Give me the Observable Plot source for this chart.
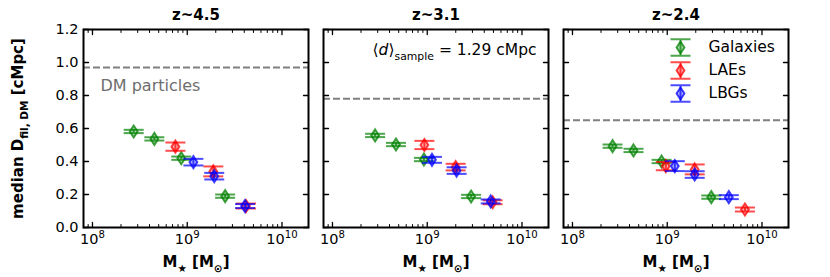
<!DOCTYPE html>
<html><head><meta charset="utf-8">
<script src="https://cdn.jsdelivr.net/npm/d3@7"></script>
<script src="https://cdn.jsdelivr.net/npm/@observablehq/plot@0.6"></script>
<style>body{margin:0;background:#fff;}</style>
</head><body><div id="chart"></div>
<script>
// ---- data ----
const panels = ["z~4.5", "z~3.1", "z~2.4"];
const seriesNames = ["Galaxies", "LAEs", "LBGs"];
const seriesColors = ["#008000", "#ff0000", "#0000ff"];
const dmLevel = [0.97, 0.78, 0.65];           // dashed "DM particles" level per panel

// log10 M* per panel
const galLogM = [[8.435, 8.653, 8.937, 9.40], [8.45, 8.67, 8.965, 9.463], [8.423, 8.644, 8.94, 9.465]];
const galD    = [[0.582, 0.537, 0.42, 0.19], [0.558, 0.503, 0.412, 0.188], [0.493, 0.467, 0.40, 0.184]];
const galErr  = [[0.01, 0.01, 0.01, 0.01], [0.01, 0.01, 0.01, 0.01], [0.01, 0.01, 0.01, 0.01]];

const laeLogM = [[8.875, 9.275, 9.62], [8.97, 9.30, 9.69], [8.985, 9.29, 9.82]];
const laeD    = [[0.49, 0.34, 0.13], [0.50, 0.366, 0.153], [0.372, 0.352, 0.109]];
const laeErr  = [[0.025, 0.03, 0.015], [0.025, 0.02, 0.012], [0.025, 0.03, 0.012]];

const lbgLogM = [[9.065, 9.285, 9.61], [9.05, 9.31, 9.67], [9.08, 9.29, 9.65]];
const lbgD    = [[0.396, 0.311, 0.13], [0.41, 0.345, 0.158], [0.372, 0.321, 0.184]];
const lbgErr  = [[0.02, 0.02, 0.012], [0.018, 0.02, 0.012], [0.03, 0.02, 0.012]];

const xMajor = [1e8, 1e9, 1e10];
const xMinor = [9e7, 2e8, 3e8, 4e8, 5e8, 6e8, 7e8, 8e8, 9e8, 2e9, 3e9, 4e9, 5e9, 6e9, 7e9, 8e9, 9e9];
const yTicks = [0, 0.2, 0.4, 0.6, 0.8, 1.0, 1.2];
const xTickExp = ["8", "9", "10"];

// ---- build table ----
const sets = [[galLogM, galD, galErr], [laeLogM, laeD, laeErr], [lbgLogM, lbgD, lbgErr]];
const rows = [];
sets.forEach(([LM, D, E], si) => panels.forEach((p, pi) => LM[pi].forEach((lm, i) =>
  rows.push({panel: p, series: seriesNames[si], m: Math.pow(10, lm), d: D[pi][i], e: E[pi][i]}))));

// ---- symbols ----
const thinDiamond = {draw(ctx, size) { const r = Math.sqrt(size / Math.PI), w = r * 0.65;
  ctx.moveTo(0, -r); ctx.lineTo(w, 0); ctx.lineTo(0, r); ctx.lineTo(-w, 0); ctx.closePath(); }};
const capLine = {draw(ctx, size) { const r = Math.sqrt(size / Math.PI); ctx.moveTo(-r, 0); ctx.lineTo(r, 0); }};
const errGlyph = {draw(ctx, size) { const r = Math.sqrt(size / Math.PI), h = r * 0.83;
  ctx.moveTo(-r, -h); ctx.lineTo(r, -h); ctx.moveTo(-r, h); ctx.lineTo(r, h); ctx.moveTo(0, -h); ctx.lineTo(0, h); }};
const tickShape = {draw(ctx, l) { ctx.moveTo(0, 0); ctx.lineTo(0, -l); }};

const marks = [];
// dashed DM lines
marks.push(Plot.ruleY(panels, {fx: d => d, y: (d, i) => dmLevel[i], stroke: "#808080", strokeWidth: 2, strokeDasharray: "7,3"}));
marks.push(Plot.text([panels[0]], {fx: d => d, text: () => "DM particles", frameAnchor: "top-left", dx: 17, dy: 56, textAnchor: "start", lineAnchor: "middle", fill: "#6e6e6e", fontSize: 16}));

// error bars + markers
seriesNames.forEach((s, si) => {
  const data = rows.filter(r => r.series === s);
  const c = seriesColors[si];
  marks.push(Plot.ruleX(data, {fx: "panel", x: "m", y1: d => d.d - d.e, y2: d => d.d + d.e, stroke: c, strokeOpacity: 0.7, strokeWidth: 2}));
  marks.push(Plot.dot(data, {fx: "panel", x: "m", y: d => d.d - d.e, symbol: capLine, r: 10, stroke: c, strokeOpacity: 0.7, strokeWidth: 2, fill: "none"}));
  marks.push(Plot.dot(data, {fx: "panel", x: "m", y: d => d.d + d.e, symbol: capLine, r: 10, stroke: c, strokeOpacity: 0.7, strokeWidth: 2, fill: "none"}));
  marks.push(Plot.dot(data, {fx: "panel", x: "m", y: "d", symbol: thinDiamond, r: 6, stroke: c, strokeOpacity: 0.75, strokeWidth: 2, fill: c, fillOpacity: 0.3}));
});

// legend (panel 3)
seriesNames.forEach((s, i) => {
  const c = seriesColors[i];
  const dy = 18 + 23 * i;
  marks.push(Plot.dot([panels[2]], {fx: d => d, frameAnchor: "top-right", dx: -108, dy, symbol: errGlyph, r: 10, stroke: c, strokeOpacity: 0.7, strokeWidth: 2, fill: "none"}));
  marks.push(Plot.dot([panels[2]], {fx: d => d, frameAnchor: "top-right", dx: -108, dy, symbol: thinDiamond, r: 6, stroke: c, strokeOpacity: 0.75, strokeWidth: 2, fill: c, fillOpacity: 0.3}));
  marks.push(Plot.text([panels[2]], {fx: d => d, text: () => s, frameAnchor: "top-right", dx: -80, dy, textAnchor: "start", lineAnchor: "middle", fontSize: 15.5}));
});

// annotation (panel 2)
marks.push(Plot.text([panels[1]], {fx: d => d, text: () => "ANNOT", frameAnchor: "top-right", dx: -12, dy: 21, textAnchor: "end", lineAnchor: "middle", fontSize: 15.5}));

// inward ticks
const tk = {stroke: "black", anchor: "start", shape: tickShape};
marks.push(Plot.vector(xMajor, {...tk, x: d => d, frameAnchor: "bottom", rotate: 0, length: 5, strokeWidth: 1.3}));
marks.push(Plot.vector(xMajor, {...tk, x: d => d, frameAnchor: "top", rotate: 180, length: 5, strokeWidth: 1.3}));
marks.push(Plot.vector(xMinor, {...tk, x: d => d, frameAnchor: "bottom", rotate: 0, length: 3, strokeWidth: 1}));
marks.push(Plot.vector(xMinor, {...tk, x: d => d, frameAnchor: "top", rotate: 180, length: 3, strokeWidth: 1}));
marks.push(Plot.vector(yTicks, {...tk, y: d => d, frameAnchor: "left", rotate: 90, length: 5, strokeWidth: 1.3}));
marks.push(Plot.vector(yTicks, {...tk, y: d => d, frameAnchor: "right", rotate: -90, length: 5, strokeWidth: 1.3}));

marks.push(Plot.frame({stroke: "black", strokeWidth: 2}));

// axes
marks.push(Plot.axisY({ticks: yTicks, tickSize: 0, tickPadding: 5, tickFormat: d3.format(".1f"), label: null, fontSize: 14.5}));
marks.push(Plot.axisX({ticks: xMajor, tickSize: 0, tickPadding: 6, tickFormat: d => "10^" + xTickExp[xMajor.indexOf(d)], label: null, fontSize: 14.5}));
marks.push(Plot.axisFx({anchor: "top", label: null, tickSize: 0, tickPadding: 10, fontWeight: "bold", fontSize: 15}));

// axis titles
marks.push(Plot.text(panels, {fx: d => d, text: () => "XTITLE", frameAnchor: "bottom", dy: 35, textAnchor: "middle", lineAnchor: "middle", fontWeight: "bold", fontSize: 15}));
marks.push(Plot.text([panels[0]], {fx: d => d, text: () => "YTITLE", frameAnchor: "left", rotate: -90, dx: -65, textAnchor: "middle", lineAnchor: "middle", fontWeight: "bold", fontSize: 15}));

const chart = Plot.plot({
  width: 830, height: 277,
  marginLeft: 83, marginRight: 42, marginTop: 29, marginBottom: 50,
  style: {fontFamily: "DejaVu Sans", fontSize: "14.5px", background: "white", color: "black", overflow: "visible"},
  x: {type: "log", domain: [8.04e7, 1.905e10]},
  y: {domain: [0, 1.2]},
  fx: {domain: panels, paddingInner: 0.0625, paddingOuter: 0},
  marks
});
document.getElementById("chart").appendChild(chart);

// ---- rich text (sub/superscripts) ----
function rich(el, parts) {
  const t = d3.select(el);
  const fs = parseFloat(getComputedStyle(el).fontSize) || 14.5;
  t.text(null);
  let shift = 0;
  parts.forEach(([s, kind]) => {
    const ts = t.append("tspan").text(s);
    let target = 0;
    if (kind === "sub") { target = fs * 0.28; ts.attr("font-size", fs * 0.7); }
    if (kind === "sup") { target = -fs * 0.42; ts.attr("font-size", fs * 0.7); }
    if (kind === "it") ts.attr("font-style", "italic");
    const dy = target - shift;
    if (dy) ts.attr("dy", dy);
    shift = target;
  });
}
d3.select(chart).selectAll("text").each(function() {
  const s = this.textContent;
  if (s === "XTITLE") rich(this, [["M"], ["★", "sub"], [" [M"], ["⊙", "sub"], ["]"]]);
  else if (s === "YTITLE") rich(this, [["median D"], ["fil, DM", "sub"], [" [cMpc]"]]);
  else if (s === "ANNOT") rich(this, [["⟨"], ["d", "it"], ["⟩"], ["sample", "sub"], [" = 1.29 cMpc"]]);
  else if (s.startsWith("10^")) rich(this, [["10"], [s.slice(3), "sup"]]);
});
</script></body></html>
